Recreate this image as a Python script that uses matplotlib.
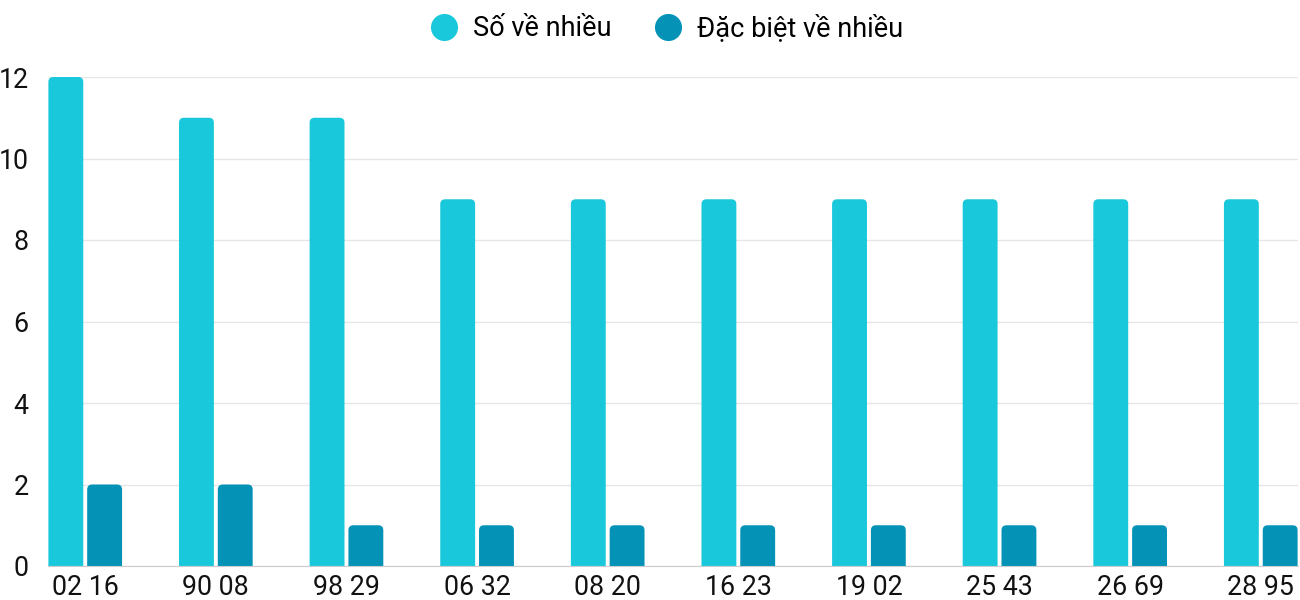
import matplotlib
matplotlib.use("Agg")
import matplotlib.pyplot as plt
from matplotlib.patches import FancyBboxPatch
from matplotlib.lines import Line2D

plt.rcParams['font.family'] = ['Roboto', 'DejaVu Sans']

categories = ["02 16", "90 08", "98 29", "06 32", "08 20", "16 23", "19 02", "25 43", "26 69", "28 95"]
so_ve_nhieu = [12, 11, 11, 9, 9, 9, 9, 9, 9, 9]
dac_biet = [2, 2, 1, 1, 1, 1, 1, 1, 1, 1]
series_names = ["Số về nhiều", "Đặc biệt về nhiều"]
colors = ["#1ac8db", "#0492b7"]

fig = plt.figure(figsize=(13, 6), dpi=100)
ax = fig.add_axes([48/1300, 34/600, 1250/1300, 489/600])

w = 0.267
off = 0.1485
xs = list(range(len(categories)))

# x unit ~130.6px, y unit ~40.75px
rx = 5/130.6
ry = 5/40.75
for vals, sign, col in [(so_ve_nhieu, -1, colors[0]), (dac_biet, 1, colors[1])]:
    bars = ax.bar([x + sign*off for x in xs], vals, width=w, color=col)
    for b in bars:
        b.set_visible(False)
        p = FancyBboxPatch((b.get_x(), -1), b.get_width(), b.get_height() + 1,
                           boxstyle=f"round,pad=0,rounding_size={rx}",
                           mutation_aspect=ry/rx, fc=col, ec='none', zorder=2)
        ax.add_patch(p)

ax.set_xlim(-0.285, len(categories) - 1 + 0.285)
ax.set_ylim(0, 12)
ax.set_yticks(range(0, 13, 2))
ax.set_xticks(xs)
ax.set_xticklabels(categories)
ax.tick_params(axis='both', length=0, labelsize=19.3, colors='#111111')
ax.tick_params(axis='y', pad=14)
ax.tick_params(axis='x', pad=6)
ax.grid(axis='y', color='#e6e6e6', linewidth=1, zorder=0)
ax.set_axisbelow(True)
for s in ['top', 'right', 'left']:
    ax.spines[s].set_visible(False)
ax.spines['bottom'].set_color('#cccccc')
ax.spines['bottom'].set_zorder(3)

handles = [Line2D([0], [0], marker='o', linestyle='none', markersize=19.5,
                  markerfacecolor=c, markeredgecolor='none') for c in colors]
fig.legend(handles, series_names, loc='upper center', bbox_to_anchor=(0.513, 1.008),
           ncol=2, frameon=False, fontsize=19.5, handletextpad=0.55, columnspacing=1.6,
           handlelength=1.0, borderaxespad=0.3)

fig.savefig("out.png", dpi=100)
